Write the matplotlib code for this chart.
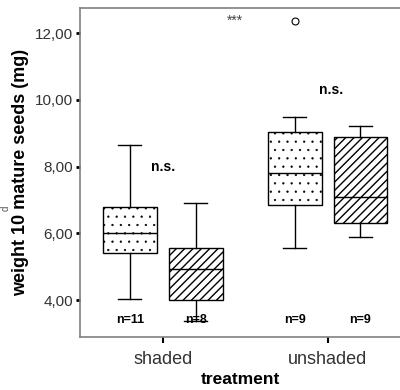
import matplotlib
matplotlib.use('Agg')
import matplotlib.pyplot as plt

plt.rcParams['font.family'] = ['Liberation Sans', 'DejaVu Sans']
plt.rcParams['hatch.linewidth'] = 1.0

# values
groups = ['shaded', 'unshaded']
positions = [0.8, 1.2, 1.8, 2.2]
whislo = [4.05, 3.37, 5.56, 5.90]
q1 = [5.41, 4.00, 6.84, 6.30]
med = [6.00, 4.93, 7.80, 7.08]
q3 = [6.78, 5.56, 9.03, 8.88]
whishi = [8.65, 6.90, 9.48, 9.21]
fliers = [[], [], [12.38], []]
hatches = ['..', '////', '..', '////']
n_labels = ['n=11', 'n=8', 'n=9', 'n=9']
ns_pos = [(1.0, 8.0), (2.02, 10.3)]

stats = []
for i in range(4):
    stats.append(dict(whislo=whislo[i], q1=q1[i], med=med[i], q3=q3[i],
                      whishi=whishi[i], fliers=fliers[i]))

fig = plt.figure(figsize=(4, 3.9), dpi=100)
ax = fig.add_axes([0.2, 0.136, 0.8, 0.843])

bp = ax.bxp(stats, positions=positions, widths=0.327, patch_artist=True,
            capwidths=0.14,
            boxprops=dict(facecolor='white', edgecolor='black', linewidth=1),
            medianprops=dict(color='black', linewidth=1),
            whiskerprops=dict(color='black', linewidth=1),
            capprops=dict(color='black', linewidth=1),
            flierprops=dict(marker='o', markersize=5, markerfacecolor='white',
                            markeredgecolor='black', markeredgewidth=0.8))
for box, h in zip(bp['boxes'], hatches):
    box.set_hatch(h)
    if h == '..' and hasattr(box, 'set_hatch_linewidth'):
        box.set_hatch_linewidth(0.4)

# extreme value marker
ax.text(1.436, 12.38, '***', ha='center', va='center', fontsize=10, color='#444444')

for x, lab in zip(positions, n_labels):
    ax.text(x, 3.4, lab, ha='center', va='center', fontsize=9, fontweight='bold')
for x, y in ns_pos:
    ax.text(x, y, 'n.s.', ha='center', va='center', fontsize=10, fontweight='bold')

ax.set_xlim(0.497, 2.44)
ax.set_ylim(2.9, 12.75)
ax.set_xticks([1, 2])
ax.set_xticklabels(groups, fontsize=13, color='#333333')
ax.set_yticks([4, 6, 8, 10, 12])
ax.set_yticklabels(['4,00', '6,00', '8,00', '10,00', '12,00'], fontsize=11, color='#333333')
ax.tick_params(axis='y', length=3, width=2, color='black', pad=2)
ax.tick_params(axis='x', length=4, width=1.5, color='black', pad=6)

for s in ['left', 'bottom', 'top']:
    ax.spines[s].set_color('#808080')
    ax.spines[s].set_linewidth(1.2)
ax.spines['right'].set_visible(False)

ax.set_ylabel('weight 10 mature seeds (mg)', fontsize=13, fontweight='bold', labelpad=4)
ax.set_xlabel('treatment', fontsize=12.5, fontweight='bold')
ax.xaxis.set_label_coords(0.5, -0.108)

fig.text(0.002, 0.465, 'd', rotation=90, fontsize=7, color='#555555', va='center')

fig.savefig('out.png', dpi=100)
